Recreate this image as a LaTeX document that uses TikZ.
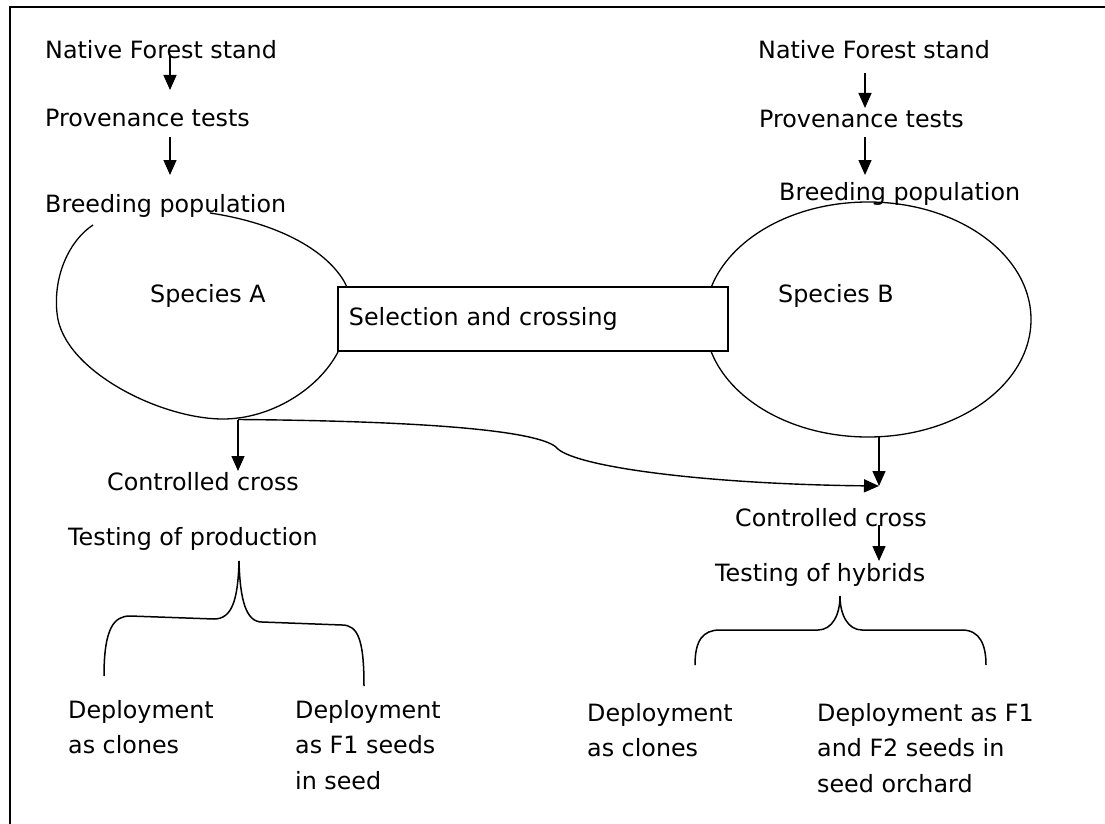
\documentclass[tikz,border=0pt]{standalone}
\usepackage{fontspec}
\setmainfont{DejaVu Sans}
\usetikzlibrary{arrows.meta}
\begin{document}
\begin{tikzpicture}[x=1pt,y=-1pt,
  txt/.style={inner sep=0pt,anchor=base west,font=\fontsize{23.8pt}{35.5pt}\selectfont,align=left},
  conn/.style={line width=1.4pt},
  arr/.style={conn,-{Triangle[length=15pt,width=13pt]}},
  shapeline/.style={line width=1.3pt},
  bracestyle/.style={line width=1.5pt}]
\useasboundingbox (0,0) rectangle (1105,824);
\fill[white] (0,0) rectangle (1105,824);
% frame (only top and left edges visible)
\draw[line width=2pt] (10,824) -- (10,7) -- (1105,7);

% Species A outline (open freeform curve)
\coordinate (fA0) at (210,213);
\coordinate (fA1) at (342,278);
\coordinate (fA2) at (338,352);
\coordinate (fA3) at (223,419);
\coordinate (fA4) at (57,313);
\coordinate (fA5) at (93,225);
\draw[shapeline] (fA0) .. controls (270,222) and (320,245) .. (fA1)
   .. controls (360,305) and (347,335) .. (fA2)
   .. controls (318,390) and (270,419) .. (fA3)
   .. controls (160,419) and (62,370) .. (fA4)
   .. controls (53,275) and (70,240) .. (fA5);
\coordinate (eAb) at (238,419.5);
% Species B outline
\draw[shapeline] (868,319.5) ellipse [x radius=163pt, y radius=117.5pt];
\coordinate (eBb) at (879,437);

% selection box
\node[draw,fill=white,line width=1.8pt,anchor=north west,minimum width=390pt,minimum height=64pt,
      text width=368pt,inner xsep=11pt,inner ysep=0pt,align=left,
      font=\fontsize{23.8pt}{28pt}\selectfont] (sel) at (337,286) {Selection and crossing};

% texts left
\node[txt] (nfA) at (45,59) {Native Forest stand};
\node[txt] (ptA) at (45,127) {Provenance tests};
\node[txt] (bpA) at (45,212) {Breeding population};
\node[txt] (spA) at (150,302) {Species A};
\node[txt] (ccA) at (107,490) {Controlled cross};
\node[txt] (tpA) at (68,545) {Testing of production};
\node[txt] (dcA) at (68,753.5) {Deployment\\as clones};
\node[txt] (dfA) at (295,789) {Deployment\\as F1 seeds\\in seed};
% texts right
\node[txt] (nfB) at (758,59) {Native Forest stand};
\node[txt] (ptB) at (759,128) {Provenance tests};
\node[txt] (bpB) at (779,200) {Breeding population};
\node[txt] (spB) at (778,302) {Species B};
\node[txt] (ccB) at (735,526) {Controlled cross};
\node[txt] (thB) at (715,581) {Testing of hybrids};
\node[txt] (dcB) at (587,756.5) {Deployment\\as clones};
\node[txt] (dfB) at (817,792) {Deployment as F1\\and F2 seeds in\\seed orchard};

% arrow endpoints
\coordinate (a1s) at (170,55);  \coordinate (a1e) at (170,90);
\coordinate (a2s) at (170,137); \coordinate (a2e) at (170,175);
\coordinate (b1s) at (865,73);  \coordinate (b1e) at (865,108);
\coordinate (b2s) at (865,137); \coordinate (b2e) at (865,175);
\coordinate (ccAt) at (238,471);
\coordinate (ccBt) at (879,486);
\coordinate (c2s) at (879,525); \coordinate (c2e) at (879,561);

\draw[arr] (a1s) -- (a1e);
\draw[arr] (a2s) -- (a2e);
\draw[arr] (b1s) -- (b1e);
\draw[arr] (b2s) -- (b2e);
\draw[arr] (eAb) -- (ccAt);
\draw[arr] (eBb) -- (ccBt);
\draw[arr] (eAb) .. controls (420,421) and (535,430) .. (556,447)
                 .. controls (570,466) and (700,484) .. (ccBt);
\draw[arr] (c2s) -- (c2e);

% braces
\draw[bracestyle] (104,676) .. controls (104,628) and (114,616) .. (130,616) -- (214,619)
   .. controls (232,619) and (238,600) .. (239,561)
   .. controls (240,600) and (246,622) .. (262,622) -- (342,625)
   .. controls (358,625) and (364,640) .. (364,686);
\draw[bracestyle] (695,665) .. controls (695,640) and (703,630) .. (720,630) -- (818,630)
   .. controls (832,630) and (840,615) .. (840,596)
   .. controls (840,615) and (848,630) .. (862,630) -- (962,630)
   .. controls (980,630) and (986,645) .. (986,665);
\end{tikzpicture}
\end{document}
